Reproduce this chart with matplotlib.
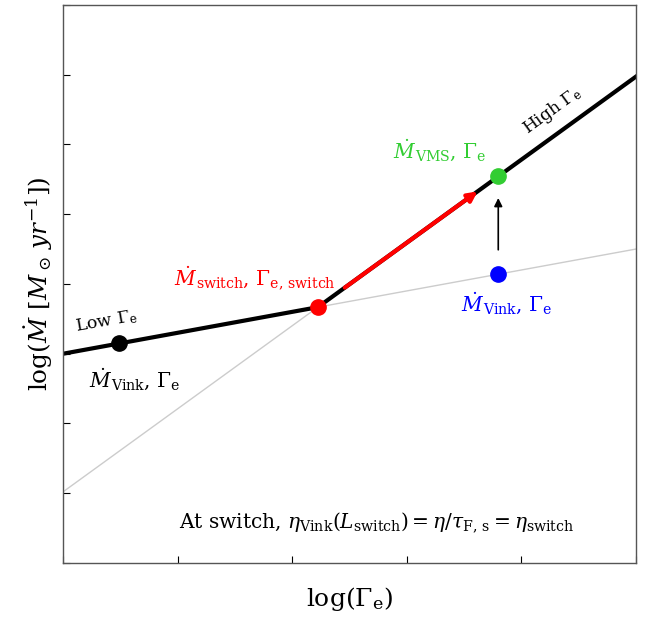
import numpy as np
import matplotlib
matplotlib.use("Agg")
import matplotlib.pyplot as plt

plt.rcParams['font.family'] = ['DejaVu Serif']
plt.rcParams['mathtext.fontset'] = 'dejavuserif'

# data (arbitrary log units)
x_range = [0.0, 5.0]
vink_intercept, vink_slope = 3.0, 0.30
vms_intercept, vms_slope = 1.02, 1.19
x_low = 0.49          # low Gamma_e point
x_high = 3.80         # high Gamma_e point
arrow_red_x = [2.46, 3.59]

x_switch = (vms_intercept - vink_intercept) / (vink_slope - vms_slope)

def vink(x):
    return vink_intercept + vink_slope * np.asarray(x)

def vms(x):
    return vms_intercept + vms_slope * np.asarray(x)

fig = plt.figure(figsize=(6.5, 6.17), dpi=100)
ax = fig.add_axes([0.097, 0.0875, 0.881, 0.9045])

xs = np.array(x_range)
ax.plot(xs, vink(xs), color='#cccccc', lw=1, zorder=1)
ax.plot(xs, vms(xs), color='#cccccc', lw=1, zorder=1)

xl = np.array([x_range[0], x_switch])
ax.plot(xl, vink(xl), color='black', lw=3, zorder=2)
xh = np.array([x_switch, x_range[1]])
ax.plot(xh, vms(xh), color='black', lw=3, zorder=2)

ax.annotate('', xy=(arrow_red_x[1] + 0.03, vms(arrow_red_x[1] + 0.03)),
            xytext=(arrow_red_x[0], vms(arrow_red_x[0])),
            arrowprops=dict(arrowstyle='-|>', color='red', lw=3,
                            mutation_scale=14, shrinkA=0, shrinkB=0), zorder=3)
ax.annotate('', xy=(x_high, vms(x_high) - 0.31),
            xytext=(x_high, vink(x_high) + 0.35),
            arrowprops=dict(arrowstyle='-|>', color='black', lw=1.2,
                            mutation_scale=12, shrinkA=0, shrinkB=0), zorder=3)

ms = 11
ax.plot([x_low], [vink(x_low)], 'o', color='black', ms=ms, zorder=4)
ax.plot([x_switch], [vink(x_switch)], 'o', color='red', ms=ms, zorder=4)
ax.plot([x_high], [vms(x_high)], 'o', color='limegreen', ms=ms, zorder=4)
ax.plot([x_high], [vink(x_high)], 'o', color='blue', ms=ms, zorder=4)

ax.set_xlim(0, 5)
ax.set_ylim(0, 8)
ax.set_xticks(np.arange(0, 6, 1))
ax.set_yticks(np.arange(0, 9, 1))
ax.set_xticklabels([])
ax.set_yticklabels([])
ax.tick_params(direction='in', length=5)
for sp in ax.spines.values():
    sp.set_color('#555555')
    sp.set_linewidth(1.0)

fs = 14.5
def px(xp, yp):
    return ((xp - 63) / 573 * 5, (563 - yp) / 557 * 8)

ax.text(*px(106, 322), r'Low $\Gamma_{\rm e}$', fontsize=12.5, rotation=10,
        ha='center', va='center')
ax.text(*px(135, 380), r'$\dot M_{\rm Vink}$, $\Gamma_{\rm e}$', fontsize=fs,
        ha='center', va='center')
ax.text(*px(255, 279), r'$\dot M_{\rm switch}$, $\Gamma_{\rm e,\,switch}$', fontsize=fs,
        color='red', ha='center', va='center')
ax.text(*px(440, 152), r'$\dot M_{\rm VMS}$, $\Gamma_{\rm e}$', fontsize=fs,
        color='limegreen', ha='center', va='center')
ax.text(*px(553, 111), r'High $\Gamma_{\rm e}$', fontsize=12.3, rotation=36,
        ha='center', va='center')
ax.text(*px(507, 304), r'$\dot M_{\rm Vink}$, $\Gamma_{\rm e}$', fontsize=fs,
        color='blue', ha='center', va='center')
ax.text(*px(377, 522),
        r'At switch, $\eta_{\rm Vink}(L_{\rm switch}) = \eta/\tau_{\rm F,\,s} = \eta_{\rm switch}$',
        fontsize=fs, ha='center', va='center')

ax.set_xlabel(r'$\log(\Gamma_{\rm e})$', fontsize=18, labelpad=12)
ax.set_ylabel(r'$\log(\dot M\ [M_\odot\, yr^{-1}])$', fontsize=17.7, labelpad=2)

fig.savefig('out.png', dpi=100)
